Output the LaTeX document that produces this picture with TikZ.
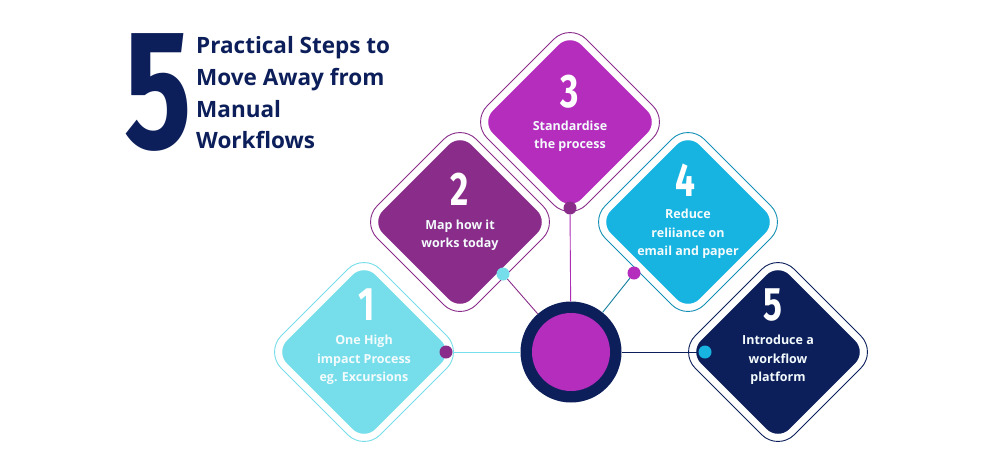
\documentclass[tikz,border=0pt]{standalone}
\usepackage{fontspec}
\setmainfont{Open Sans}
\newfontfamily\numfont{Fira Sans}
\definecolor{navy}{HTML}{0C1F5B}
\definecolor{magen}{HTML}{B52DBD}
\definecolor{purp}{HTML}{8A2D8A}
\definecolor{lcyan}{HTML}{76DEEA}
\definecolor{cblue}{HTML}{18B4E1}
\definecolor{ltext}{HTML}{F4FBFD}
\begin{document}
\begin{tikzpicture}[x=1pt,y=-1pt,
  dfill/.style={rectangle, rotate=45, minimum size=125pt, rounded corners=16pt, inner sep=0pt, fill=#1},
  dline/.style={rectangle, rotate=45, minimum size=140pt, rounded corners=23pt, inner sep=0pt, draw=#1, line width=0.9pt},
  dot/.style={circle, minimum size=13pt, inner sep=0pt, fill=#1},
  conn/.style={draw=#1, line width=0.9pt},
  bignum/.style={font=\numfont\bfseries\fontsize{47}{47}\selectfont, text=white, inner sep=0pt},
  dtext/.style={font=\bfseries\fontsize{12.5}{18.5}\selectfont, text=ltext, align=center, inner sep=0pt},
  ttext/.style={font=\bfseries\fontsize{22.5}{32}\selectfont, text=navy, anchor=base west, inner sep=0pt}
]
\useasboundingbox[fill=white] (0,0) rectangle (989,464);

% title
\node[font=\numfont\bfseries\fontsize{170}{170}\selectfont, text=navy, inner sep=0pt] (big5) at (158,92) {\scalebox{0.74}[1]{5}};
\node[ttext] (t1) at (196,53) {Practical Steps to};
\node[ttext] (t2) at (196,85) {Move Away from};
\node[ttext] (t3) at (196,117) {Manual};
\node[ttext] (t4) at (196,148) {Workflows};

% diamonds
\node[dline=lcyan] (o1) at (364,352) {};
\node[dfill=lcyan] (d1) at (364,352) {};
\node[dline=purp] (o2) at (460,222) {};
\node[dfill=purp] (d2) at (460,222) {};
\node[dline=purp] (o3) at (570,122) {};
\node[dfill=magen] (d3) at (570,122) {};
\node[dline=cblue!80!black] (o4) at (688,222) {};
\node[dfill=cblue] (d4) at (688,222) {};
\node[dline=navy] (o5) at (778,352) {};
\node[dfill=navy] (d5) at (778,352) {};

% numbers
\node[bignum] (n1) at (367,305) {\scalebox{0.75}[1]{1}};
\node[bignum] (n2) at (460,189) {\scalebox{0.75}[1]{2}};
\node[bignum] (n3) at (570,92) {\scalebox{0.75}[1]{3}};
\node[bignum] (n4) at (685,180) {\scalebox{0.75}[1]{4}};
\node[bignum] (n5) at (773,305) {\scalebox{0.75}[1]{5}};

% texts
\node[dtext] (x1) at (364,360) {One High\\impact Process\\eg. Excursions};
\node[dtext] (x2) at (460,235) {Map how it\\works today};
\node[dtext] (x3) at (570,136) {Standardise\\the process};
\node[dtext] (x4) at (688,234) {Reduce\\reliiance on\\email and paper};
\node[dtext] (x5) at (778,360) {Introduce a\\workflow\\platform};

% hub
\node[circle, minimum size=101pt, inner sep=0pt, fill=navy] (hub) at (571,352) {};

% dots
\node[dot=purp] (p1) at (446,352) {};
\node[dot=lcyan] (p2) at (503,274) {};
\node[dot=purp] (p3) at (570,208) {};
\node[dot=magen] (p4) at (634,273) {};
\node[dot=cblue] (p5) at (705,352) {};

% connectors
\draw[conn=lcyan] (p1) -- (hub);
\draw[conn=purp] (p2) -- (hub);
\draw[conn=magen!80!purp] (p3) -- (hub);
\draw[conn=cblue!70!black] (p4) -- (hub);
\draw[conn=navy] (p5) -- (hub);

\node[circle, minimum size=78pt, inner sep=0pt, fill=magen] (hubin) at (hub) {};
\end{tikzpicture}
\end{document}
